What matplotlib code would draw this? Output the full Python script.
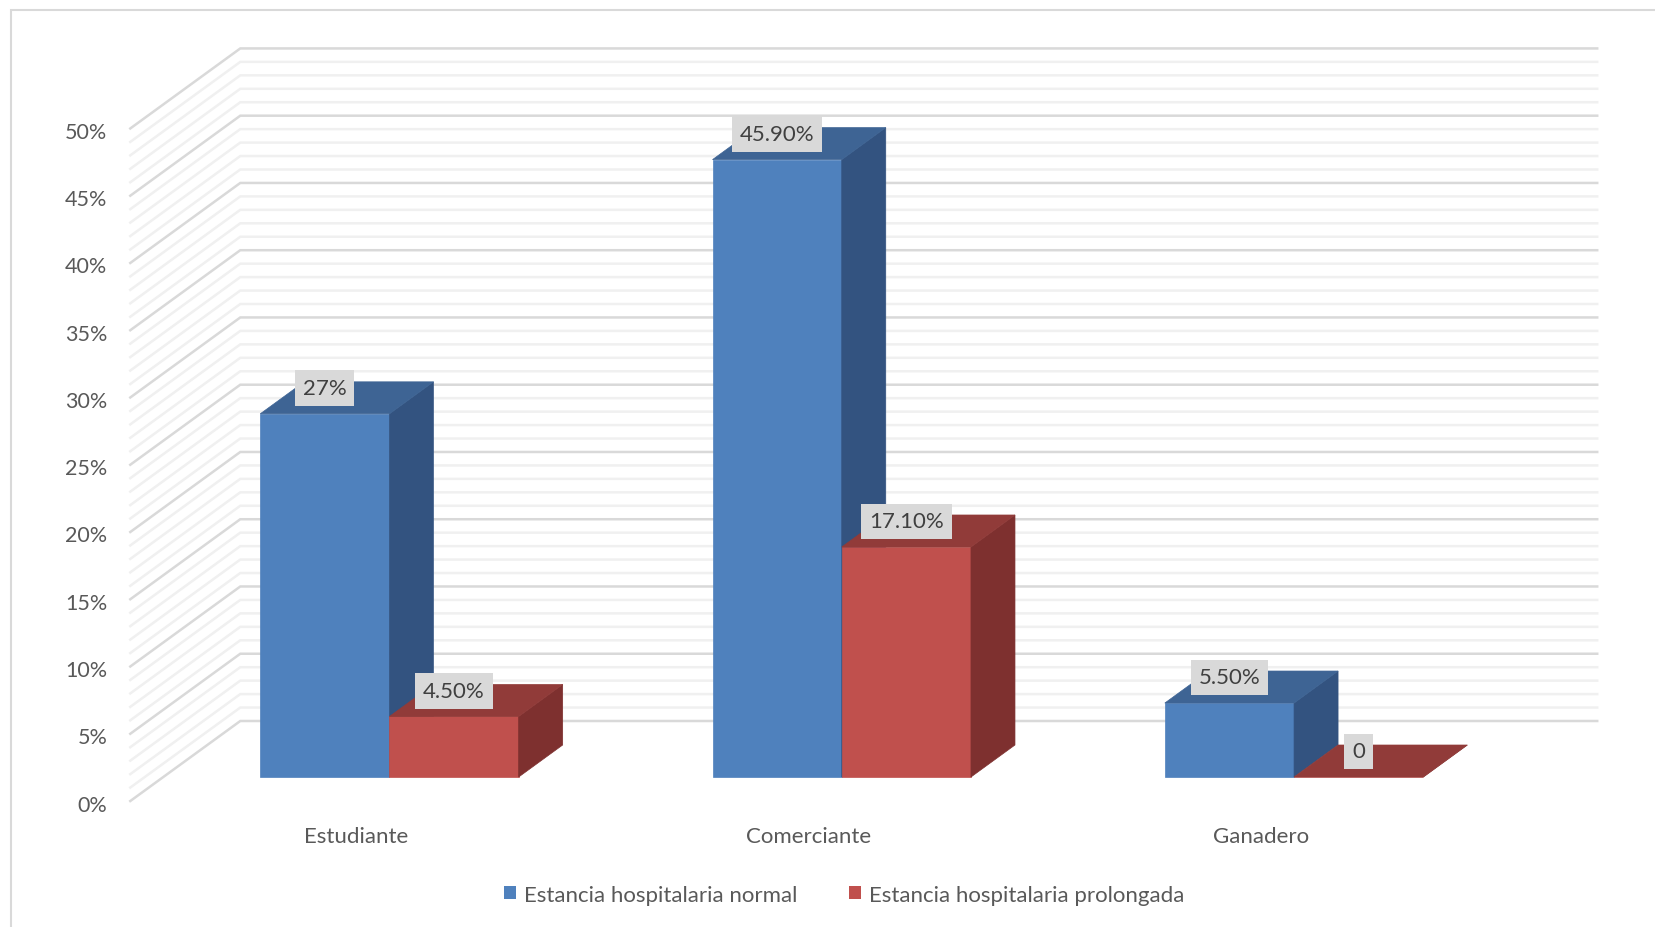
import numpy as np
import matplotlib.pyplot as plt
from matplotlib.patches import Polygon, Rectangle

categorias = ['Estudiante', 'Comerciante', 'Ganadero']
series = ['Estancia hospitalaria normal', 'Estancia hospitalaria prolongada']
normal = [27.0, 45.9, 5.5]
prolongada = [4.5, 17.1, 0.0]
etiquetas_normal = ['27%', '45.90%', '5.50%']
etiquetas_prolongada = ['4.50%', '17.10%', '0']
marcas_y = [0, 5, 10, 15, 20, 25, 30, 35, 40, 45, 50]

plt.rcParams['font.family'] = ['Lato', 'DejaVu Sans']
gris_texto = '#595959'
tam = 16

# proyeccion oblicua: la profundidad desplaza a la derecha y hacia arriba
DX = 0.2432   # unidades de categoria por unidad de profundidad
DY = 5.95     # puntos porcentuales por unidad de profundidad


def proy(x, y, d):
    return x + d * DX, y + d * DY


fig = plt.figure(figsize=(16.55, 9.28), dpi=100)
ax = fig.add_axes([0, 0, 1, 1])
ax.set_xlim(-0.861, 2.798)
ax.set_ylim(-11.15, 57.84)
ax.axis('off')

# marco del area del grafico
fig.patches.append(Rectangle((10.5 / 1655, -0.05), 1.2, 1.05 - 10.5 / 928,
                             transform=fig.transFigure, fill=False,
                             ec='#d9d9d9', lw=1.5))

# paredes: lateral izquierda y fondo, con lineas cada 1%
d_frente, d_fondo = -0.3, 0.7
x_ini, x_fin = -0.5, 2.5
for mayor in [False, True]:
    for v in range(0, 51):
        if (v % 5 == 0) != mayor:
            continue
        pa = proy(x_ini, v, d_frente)
        pb = proy(x_ini, v, d_fondo)
        pc = proy(x_fin, v, d_fondo)
        ax.plot([pa[0], pb[0], pc[0]], [pa[1], pb[1], pc[1]],
                color='#d9d9d9' if mayor else '#f0f0f0', lw=1.8,
                solid_joinstyle='miter', zorder=1)

for v in marcas_y:
    ax.annotate(f'{v}%', xy=proy(x_ini, v, d_frente), xytext=(-16.5, -2.5),
                textcoords='offset points', ha='right', va='center',
                color=gris_texto, fontsize=tam - 0.5)

x = np.arange(len(categorias))
ancho = 0.2857
prof = 0.4
estilos = [
    (normal, etiquetas_normal, x - ancho, ('#4F81BD', '#3E6494', '#335380')),
    (prolongada, etiquetas_prolongada, x, ('#C0504D', '#913B39', '#7E302F')),
]

z = 2
for valores, etiquetas, izq, (c_frente, c_arriba, c_lado) in estilos:
    ax.bar(izq, valores, width=ancho, align='edge', color=c_frente,
           edgecolor=c_frente, lw=0.5, zorder=z)
    for xl, v in zip(izq, valores):
        xr = xl + ancho
        arriba = [proy(xl, v, 0), proy(xr, v, 0), proy(xr, v, prof), proy(xl, v, prof)]
        lado = [proy(xr, 0, 0), proy(xr, v, 0), proy(xr, v, prof), proy(xr, 0, prof)]
        ax.add_patch(Polygon(lado, closed=True, fc=c_lado, ec=c_lado, lw=0.5, zorder=z + 1))
        ax.add_patch(Polygon(arriba, closed=True, fc=c_arriba, ec=c_arriba, lw=0.5, zorder=z + 1))
    for xl, v, txt in zip(izq, valores, etiquetas):
        ax.annotate(txt, xy=(xl + ancho / 2, v), xytext=(0, 18.5),
                    textcoords='offset points', ha='center', va='center',
                    color='#404040', fontsize=tam, zorder=10,
                    bbox=dict(boxstyle='square,pad=0.35', fc='#d9d9d9', ec='none'))
    z += 2

for i, nombre in enumerate(categorias):
    ax.annotate(nombre, xy=proy(i, 0, d_frente), xytext=(0, -25.5),
                textcoords='offset points', ha='center', va='center',
                color=gris_texto, fontsize=tam)

manejadores = [Rectangle((0, 0), 1, 1, fc=estilos[0][3][0]),
               Rectangle((0, 0), 1, 1, fc=estilos[1][3][0])]
fig.legend(manejadores, series, loc='center', bbox_to_anchor=(0.510, 0.035),
           ncol=2, frameon=False, fontsize=tam, handlelength=0.55,
           handleheight=0.55, handletextpad=0.35, columnspacing=2.3,
           labelcolor=gris_texto)

fig.savefig('out.png', dpi=100)
